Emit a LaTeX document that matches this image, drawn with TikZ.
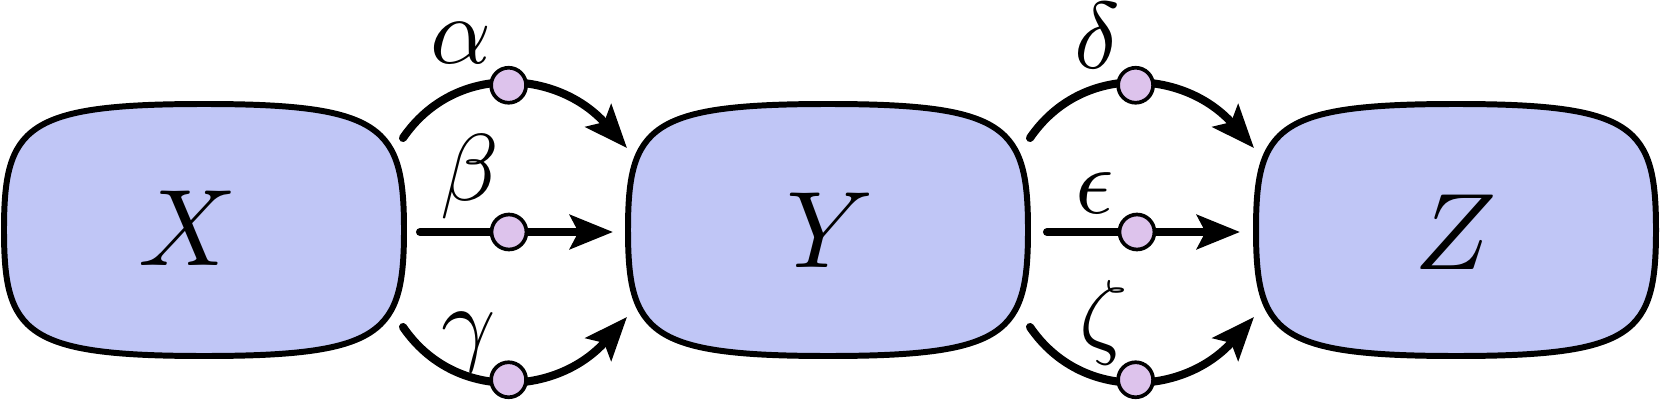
\documentclass[tikz,border=0pt]{standalone}
\usetikzlibrary{arrows.meta}
\definecolor{boxfill}{RGB}{192,198,246}
\definecolor{dotfill}{RGB}{221,195,236}
\tikzset{
  blobline/.style={line width=3.4pt, fill=boxfill, draw=black},
  blob/.pic={\path[blobline] (0,-126) .. controls (-180,-126) and (-200,-103) .. (-200,0)
      .. controls (-200,103) and (-180,126) .. (0,126)
      .. controls (180,126) and (200,103) .. (200,0)
      .. controls (200,-103) and (180,-126) .. cycle;},
  big/.style={inner sep=0pt, scale=6.2},
  greek/.style={inner sep=0pt, scale=5.4},
  conn/.style={line width=4.6pt, line cap=round, -{Stealth[length=0.86cm,width=0.68cm,inset=0.17cm]}},
  dot/.style={circle, draw=black, line width=2.1pt, fill=dotfill, minimum size=0.7cm, inner sep=0pt},
}
\begin{document}
\begin{tikzpicture}[x=0.02cm, y=-0.02cm]
\useasboundingbox (0,0) rectangle (1660,402);
% boxes
\pic at (204,230) {blob};
\pic at (828,230) {blob};
\pic at (1456,230) {blob};
\node[big] (X) at (188,228) {$X$};
\node[big] (Y) at (830,230) {$Y$};
\node[big] (Z) at (1456,232) {$Z$};
% endpoints X -> Y
\coordinate (xa) at (403,138);  \coordinate (ya) at (627,148);
\coordinate (xb) at (420,232);  \coordinate (yb) at (613,232);
\coordinate (xc) at (403,327);  \coordinate (yc) at (627,317);
% endpoints Y -> Z
\coordinate (yd) at (1030,138); \coordinate (zd) at (1254,148);
\coordinate (ye) at (1047,232); \coordinate (ze) at (1240,232);
\coordinate (yf) at (1030,327); \coordinate (zf) at (1254,317);
% connectors
\draw[conn] (xa) .. controls (455,62) and (558,70) .. node[dot, pos=0.5] (da) {} (ya);
\draw[conn] (xb) -- node[dot, pos=0.461] (db) {} (yb);
\draw[conn] (xc) .. controls (455,403) and (558,395) .. node[dot, pos=0.5] (dc) {} (yc);
\draw[conn] (yd) .. controls (1082,62) and (1185,70) .. node[dot, pos=0.5] (dd) {} (zd);
\draw[conn] (ye) -- node[dot, pos=0.466] (de) {} (ze);
\draw[conn] (yf) .. controls (1082,403) and (1185,395) .. node[dot, pos=0.5] (df) {} (zf);
% labels
\node[greek] (la) at (461,43) {$\alpha$};
\node[greek] (lb) at (470,177) {$\beta$};
\node[greek] (lc) at (469,342) {$\gamma$};
\node[greek] (ld) at (1097,36) {$\delta$};
\node[greek] (le) at (1095,193) {$\epsilon$};
\node[greek] (lf) at (1104,323) {$\zeta$};
\end{tikzpicture}
\end{document}
